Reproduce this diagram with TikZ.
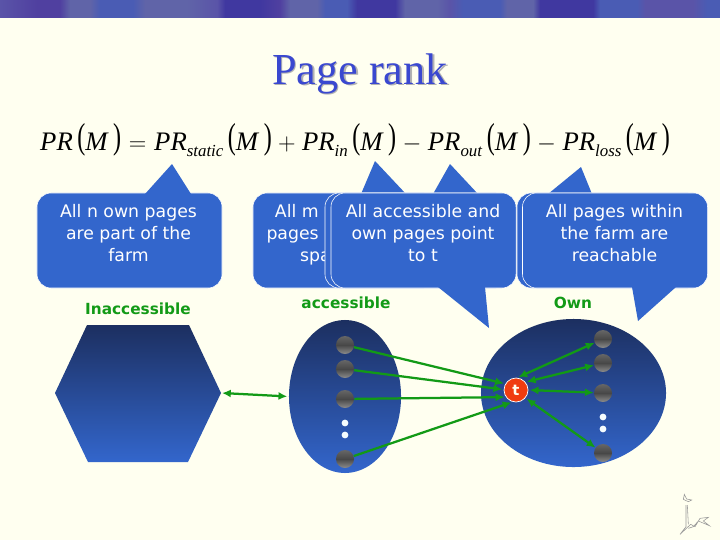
\documentclass[tikz,border=0pt]{standalone}
\usepackage{fontspec}
\setmainfont{Liberation Serif}
\newfontfamily\labelfont{DejaVu Sans}
\usepackage{xcolor}
\usetikzlibrary{
  arrows.meta,
  positioning,
  shapes.geometric
}
\definecolor{paper}{HTML}{FFFFF0}
\definecolor{bubbleblue}{HTML}{3366CC}
\definecolor{darkblue}{HTML}{1C2F60}
\definecolor{linkgreen}{HTML}{129A16}
\definecolor{titleblue}{HTML}{3A48D0}
\definecolor{targetred}{HTML}{F03C10}
\definecolor{bandA}{HTML}{4038A0}
\definecolor{bandB}{HTML}{6064A8}
\definecolor{bandC}{HTML}{4A5CB4}
\definecolor{bandD}{HTML}{5A54A8}
\definecolor{bandE}{HTML}{5040A0}
\newcommand{\prterm}[1]{\textit{PR}\raisebox{-0.5ex}{\fontsize{12}{12}\selectfont\textit{#1}}}
\newcommand{\tallp}[1]{\scalebox{0.9}[1.35]{\raisebox{0.06em}{#1}}}
\newcommand{\ofM}{\,\tallp{(}\textit{M}\,\tallp{)}}
\newcommand{\opgap}[1]{\kern0.7pt${}#1{}$\kern0.7pt}

\begin{document}
\begin{tikzpicture}[
  x=0.025cm, y=-0.025cm,
  bubble/.style={draw=white, line width=0.4pt, fill=bubbleblue, rounded corners=0.35cm,
                 minimum width=4.625cm, minimum height=2.375cm, inner sep=0pt},
  tipshape/.style={fill=bubbleblue},
  bubbletext/.style={font=\labelfont\fontsize{12.3}{15.6}\selectfont, text=white, align=center, inner sep=0pt},
  cutword/.style={font=\labelfont\fontsize{12.3}{15.6}\selectfont, text=white, inner sep=0pt, anchor=base east},
  farmname/.style={font=\labelfont\bfseries\fontsize{10.9}{12}\selectfont, text=linkgreen, inner sep=0pt},
  farm/.style={ellipse, top color=darkblue, bottom color=bubbleblue, inner sep=0pt},
  ball/.style={circle, minimum size=0.45cm, inner sep=0pt, top color=black!60, bottom color=black!45, middle color=black!72},
  gapdot/.style={circle, fill=cyan!4, minimum size=0.17cm, inner sep=0pt},
  link/.style={draw=linkgreen, line width=1.6pt, shorten >=1pt, shorten <=0pt},
  linkin/.style={link, -{Latex[length=2.2mm,width=2mm]}},
  linkboth/.style={link, {Latex[length=2.2mm,width=2mm]}-{Latex[length=2.2mm,width=2mm]}}
]
\useasboundingbox (0,0) rectangle (720,540);
\fill[paper] (0,0) rectangle (720,540);

% top band
\fill[bandB] (0,0) rectangle (720,17.5);
\foreach \xa/\xb/\ca/\cb in {0/37/bandD/bandE, 37/60/bandE/bandE, 60/70/bandE/bandB, 70/90/bandB/bandB,
    90/100/bandB/bandC, 100/133/bandC/bandC, 133/145/bandC/bandB, 145/187/bandB/bandB, 187/217/bandB/bandD,
    217/225/bandD/bandA, 225/260/bandA/bandA, 260/280/bandA/bandE, 280/290/bandE/bandB, 290/317/bandB/bandB,
    317/325/bandB/bandC, 325/347/bandC/bandC, 347/357/bandC/bandA, 357/395/bandA/bandA, 395/405/bandA/bandB,
    405/437/bandB/bandB, 437/450/bandB/bandD, 450/463/bandD/bandC, 463/500/bandC/bandC, 500/507/bandC/bandB,
    507/533/bandB/bandB, 533/540/bandB/bandA, 540/593/bandA/bandA, 593/600/bandA/bandC, 600/637/bandC/bandC,
    637/645/bandC/bandD, 645/693/bandD/bandD, 693/707/bandD/bandC, 707/720/bandC/bandC}{
  \shade[left color=\ca, right color=\cb] (\xa,0) rectangle (\xb,17.5);
}

% title and formula
\node[font=\fontsize{31.5}{31.5}\selectfont, text=black!30, inner sep=0pt] (titleshade) at (361.5,75) {Page rank};
\node[font=\fontsize{31.5}{31.5}\selectfont, text=titleblue, inner sep=0pt] (title) at (360,73.5) {Page rank};
\node[font=\fontsize{19}{19}\selectfont, inner sep=0pt] (formula) at (355,140)
  {\textit{PR}\ofM\opgap{=}\prterm{static}\ofM\opgap{+}\prterm{in}\ofM\opgap{-}\prterm{out}\ofM\opgap{-}\prterm{loss}\ofM};

% bubbles, back to front
\node[bubble] (staticbox) at (129.5,240.5) {};
\fill[tipshape] (145,194) -- (172,164) -- (191,194) -- cycle;
\node[bubbletext] (statictext) at (128.5,233) {All n own pages\\are part of the\\farm};

\fill[tipshape] (361,194) -- (375,161) -- (406,194) -- cycle;
\node[bubble] (inbox) at (345.5,240.5) {};
\node[cutword] (inlinea) at (319,217.5) {All m};
\node[cutword] (inlineb) at (319,239.5) {pages};
\node[cutword] (inlinec) at (331,261.5) {spa};

\fill[tipshape] (433,194) -- (450,164) -- (478,194) -- cycle;
\node[bubble] (outboxback) at (417.5,240.5) {};
\node[bubble] (outbox) at (423.5,240.5) {};
\fill[tipshape] (438,287) -- (489,328) -- (485,287) -- cycle;
\node[bubbletext] (outtext) at (423,233) {All accessible and\\own pages point\\to t};

\fill[tipshape] (548,194) -- (581,167) -- (592,194) -- cycle;
\node[bubble] (lossboxback) at (609.5,240.5) {};
\node[bubble] (lossbox) at (615,240.5) {};
\fill[tipshape] (632,287) -- (638,321) -- (676,287) -- cycle;
\node[bubbletext] (losstext) at (614.5,233) {All pages within\\the farm are\\reachable};

% farm names
\node[farmname] (inaccname) at (138,308.5) {Inaccessible};
\node[farmname] (accname) at (346,302.5) {accessible};
\node[farmname] (ownname) at (573,302.5) {Own};

% farms
\shade[top color=darkblue, bottom color=bubbleblue]
  (87,325) -- (189,325) -- (221,393) -- (188,462) -- (88,462) -- (55,393) -- cycle;
\coordinate (hexright) at (222,393);
\node[farm, minimum width=2.8cm, minimum height=3.825cm] (accfarm) at (345,396.5) {};
\node[farm, minimum width=4.625cm, minimum height=3.7cm] (ownfarm) at (573.5,393) {};

% accessible pages
\foreach \n/\y in {1/345, 2/369, 3/399, 4/459}{
  \node[ball] (acc\n) at (345,\y) {};
}
\node[gapdot] (accdota) at (345,423) {};
\node[gapdot] (accdotb) at (345,435) {};

% own pages
\foreach \n/\y in {1/339, 2/363, 3/393, 4/453}{
  \node[ball] (own\n) at (603,\y) {};
}
\node[gapdot] (owndota) at (603,417) {};
\node[gapdot] (owndotb) at (603,429) {};

% target page
\node[circle, draw=white, line width=0.5pt, fill=targetred, minimum size=0.6cm, inner sep=0pt,
      font=\labelfont\bfseries\fontsize{10.5}{10.5}\selectfont, text=paper] (target) at (516,390) {t};

% links
\draw[linkboth] (hexright) -- (accfarm.west);
\foreach \n/\a in {1/150, 2/178, 3/215, 4/255}{
  \draw[linkin] (acc\n) -- (target.\a);
}
\foreach \n/\a in {1/85, 2/40, 3/0, 4/-40}{
  \draw[linkboth] (own\n) -- (target.\a);
}

% logo
\begin{scope}[shift={(670,485)}, x=0.00833cm, y=-0.00833cm, draw=black!40, line width=0.4pt]
  \draw (43,28) -- (40,43) -- (55,50) -- (65,45) -- (50,42) -- cycle;
  \draw (48,60) -- (48,125) -- (30,148) -- (62,118) -- (75,125) -- (90,100) -- (115,97) -- (100,108) -- (118,122) -- (85,108) -- (70,125) -- (55,130);
  \draw (52,60) -- (55,118);
\end{scope}
\end{tikzpicture}
\end{document}
